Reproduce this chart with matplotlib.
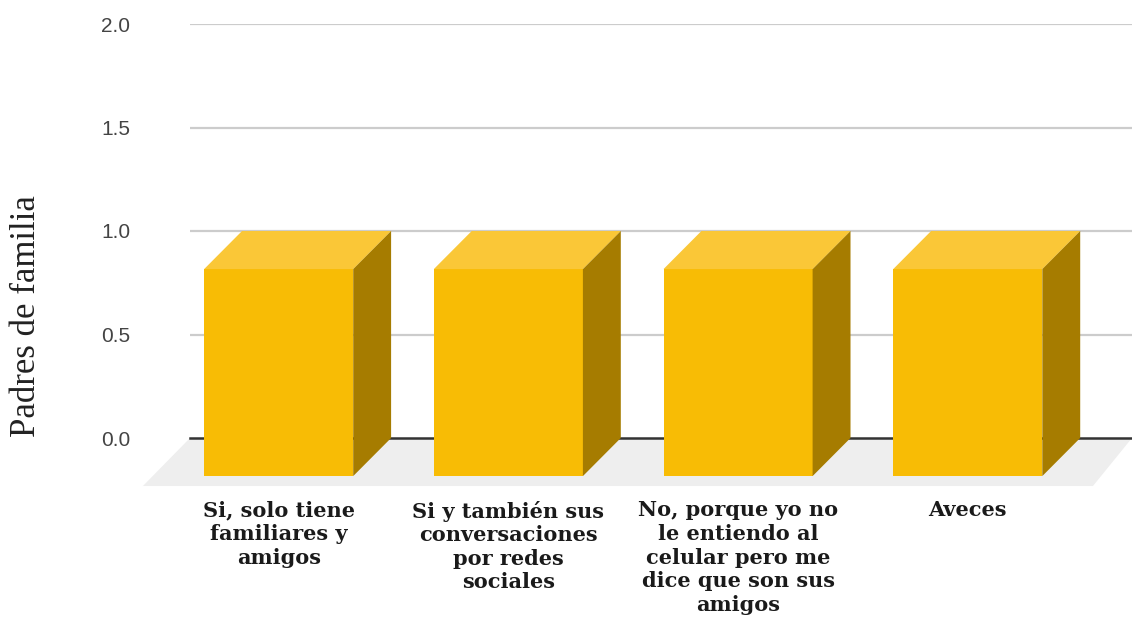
import matplotlib.pyplot as plt
from matplotlib.patches import Polygon

categories = ["Si, solo tiene\nfamiliares y\namigos",
              "Si y también sus\nconversaciones\npor redes\nsociales",
              "No, porque yo no\nle entiendo al\ncelular pero me\ndice que son sus\namigos",
              "Aveces"]
values = [1, 1, 1, 1]
yticks = [0.0, 0.5, 1.0, 1.5, 2.0]

# 3d look settings (data units)
bar_w = 0.649
depth_x = 0.165
depth_y = 0.184
front_col = "#F8BC05"
top_col = "#FAC737"
side_col = "#A67C00"

fig = plt.figure(figsize=(11.32, 6.18), dpi=100)
ax = fig.add_axes([190 / 1132, (618 - 438) / 618, 942 / 1132, 414 / 618])
x0, x1 = -0.551, 3.550
ax.set_xlim(x0, x1)
ax.set_ylim(0, 2)

# floor
floor = Polygon([(x0, 0), (x1, 0), (x1 - 0.17, -0.232), (x0 - 0.205, -0.232)],
                closed=True, facecolor="#EEEEEE", edgecolor="none", clip_on=False, zorder=0)
ax.add_patch(floor)

for t in yticks[1:]:
    ax.axhline(t, color="#CCCCCC", lw=1.6, zorder=1)
ax.axhline(0, color="#333333", lw=1.8, zorder=1, clip_on=False)

for i, v in enumerate(values):
    fl = i - depth_x - bar_w / 2
    fr = i - depth_x + bar_w / 2
    front = Polygon([(fl, -depth_y), (fr, -depth_y), (fr, v - depth_y), (fl, v - depth_y)],
                    facecolor=front_col, edgecolor="none", clip_on=False, zorder=3)
    top = Polygon([(fl, v - depth_y), (fr, v - depth_y), (fr + depth_x, v), (fl + depth_x, v)],
                  facecolor=top_col, edgecolor="none", clip_on=False, zorder=3)
    side = Polygon([(fr, -depth_y), (fr + depth_x, 0), (fr + depth_x, v), (fr, v - depth_y)],
                   facecolor=side_col, edgecolor="none", clip_on=False, zorder=3)
    for p in (front, top, side):
        ax.add_patch(p)

ax.set_xticks([i - depth_x for i in range(len(categories))])
ax.set_xticklabels(categories, fontfamily="DejaVu Serif", fontweight="bold",
                   fontsize=15, linespacing=1.22, color="#1A1A1A", va="top")
ax.tick_params(axis="x", length=0, pad=45)

ax.set_yticks(yticks)
ax.set_yticklabels([f"{t:.1f}" for t in yticks], fontfamily="Liberation Sans",
                   fontsize=15, color="#444444")
ax.tick_params(axis="y", length=0, pad=43)

for s in ax.spines.values():
    s.set_visible(False)

fig.text(27 / 1132, 1 - 316 / 618, "Padres de familia", rotation=90,
         fontfamily="Liberation Serif", fontsize=25, color="#222222",
         ha="center", va="center")

fig.savefig("out.png", dpi=100)
